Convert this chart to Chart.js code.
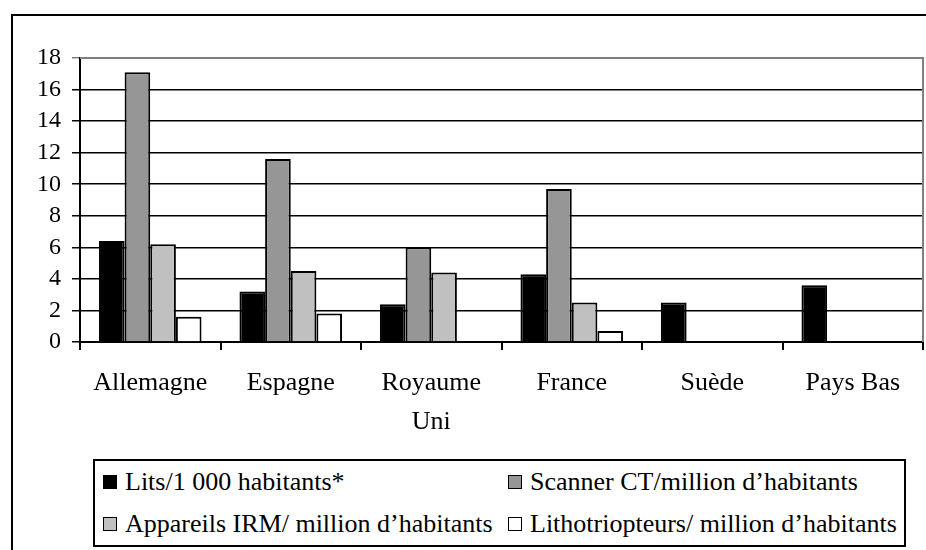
<!DOCTYPE html>
<html>
<head>
<meta charset="utf-8">
<title>Lits et équipements</title>
<script src="https://cdn.jsdelivr.net/npm/chart.js@4/dist/chart.umd.min.js"></script>
<style>
    html, body { margin: 0; padding: 0; background: #fff; overflow: hidden; }
    #wrap { position: relative; width: 926px; height: 550px; }
    #frame {
        position: absolute; left: 11px; top: 14px; width: 1000px; height: 1000px;
        border-top: 2px solid #000; border-left: 2px solid #000;
    }
    #chart { position: absolute; left: 0; top: 0; }
    #legend {
        position: absolute; left: 93px; top: 459px; width: 813px; height: 88px;
        box-sizing: border-box; border: 2px solid #000; background: #fff;
        padding-left: 8px;
        display: grid; grid-template-columns: 405px auto;
        font-family: 'Liberation Serif', serif; font-size: 26px; color: #000;
    }
    #legend .item { display: flex; align-items: center; height: 42px; white-space: nowrap; }
    #legend .sw {
        width: 14px; height: 14px; box-sizing: border-box; border: 1.5px solid #000;
        margin-right: 8px; flex: none;
    }
</style>
</head>
<body>
<div id="wrap">
    <div id="frame"></div>
    <canvas id="chart" width="926" height="550"></canvas>
    <div id="legend"></div>
</div>
<script>
/* global Chart */

// ── Data ────────────────────────────────────────────────────────────
const categories = ['Allemagne', 'Espagne', ['Royaume', 'Uni'], 'France', 'Suède', 'Pays Bas'];

const seriesLabels = [
    'Lits/1 000 habitants*',
    'Scanner CT/million d’habitants',
    'Appareils IRM/ million d’habitants',
    'Lithotriopteurs/ million d’habitants',
];

const lits    = [6.4, 3.2, 2.4, 4.3, 2.5, 3.6];
const scanner = [17.1, 11.6, 6.0, 9.7, null, null];
const irm     = [6.2, 4.5, 4.4, 2.5, null, null];
const litho   = [1.6, 1.8, null, 0.7, null, null];

const yMin  = 0;
const yMax  = 18;
const yStep = 2;

(function () {
    'use strict';

    const FONT   = "'Liberation Serif', serif";
    const colors = ['#000000', '#969696', '#c0c0c0', '#ffffff'];
    const values = [lits, scanner, irm, litho];

    Chart.defaults.font.family = FONT;
    Chart.defaults.color = '#000';

    /* ── Plot border (top + right, grey) ─────────────────────────────── */

    const plotBorder = {
        id: 'plotBorder',
        afterDatasetsDraw: function (chart) {
            const a = chart.chartArea;
            const c = chart.ctx;
            c.save();
            c.strokeStyle = '#808080';
            c.lineWidth = 2;
            c.beginPath();
            c.moveTo(a.left, a.top);
            c.lineTo(a.right, a.top);
            c.lineTo(a.right, a.bottom);
            c.stroke();
            c.restore();
        },
    };

    const datasets = values.map(function (v, i) {
        return {
            label: seriesLabels[i],
            data: v,
            backgroundColor: colors[i],
            borderColor: '#000',
            borderWidth: 2,
            categoryPercentage: 0.73,
            barPercentage: 1,
        };
    });

    const chart = new Chart(document.getElementById('chart'), {
        type: 'bar',
        data: { labels: categories, datasets: datasets },
        plugins: [plotBorder],
        options: {
            responsive: false,
            animation: false,
            layout: { padding: { left: 0, top: 58, right: 3, bottom: 98 } },
            plugins: {
                legend: { display: false },
                tooltip: { enabled: false },
            },
            scales: {
                x: {
                    afterFit: function (s) { s.height = 110; },
                    grid: {
                        display: true,
                        offset: true,
                        drawOnChartArea: false,
                        drawTicks: true,
                        tickLength: 8,
                        color: '#000',
                        lineWidth: 2,
                    },
                    border: { display: true, color: '#000', width: 2 },
                    ticks: {
                        font: { size: 26, lineHeight: 1.5 },
                        color: '#000',
                        padding: 14,
                        maxRotation: 0,
                        autoSkip: false,
                    },
                },
                y: {
                    min: yMin,
                    max: yMax,
                    afterFit: function (s) { s.width = 80; },
                    grid: {
                        color: function (ctx) { return ctx.tick && ctx.tick.value === yMax ? '#808080' : '#000'; },
                        lineWidth: 1.5,
                        drawTicks: true,
                        tickLength: 8,
                    },
                    border: { display: true, color: '#000', width: 2 },
                    ticks: {
                        stepSize: yStep,
                        autoSkip: false,
                        font: { size: 24 },
                        color: '#000',
                        padding: 11,
                    },
                },
            },
        },
    });

    /* ── HTML legend, built from the datasets ────────────────────────── */

    const legend = document.getElementById('legend');
    chart.data.datasets.forEach(function (ds) {
        const item = document.createElement('div');
        item.className = 'item';
        const sw = document.createElement('span');
        sw.className = 'sw';
        sw.style.background = ds.backgroundColor;
        item.appendChild(sw);
        item.appendChild(document.createTextNode(ds.label));
        legend.appendChild(item);
    });
})();
</script>
</body>
</html>
